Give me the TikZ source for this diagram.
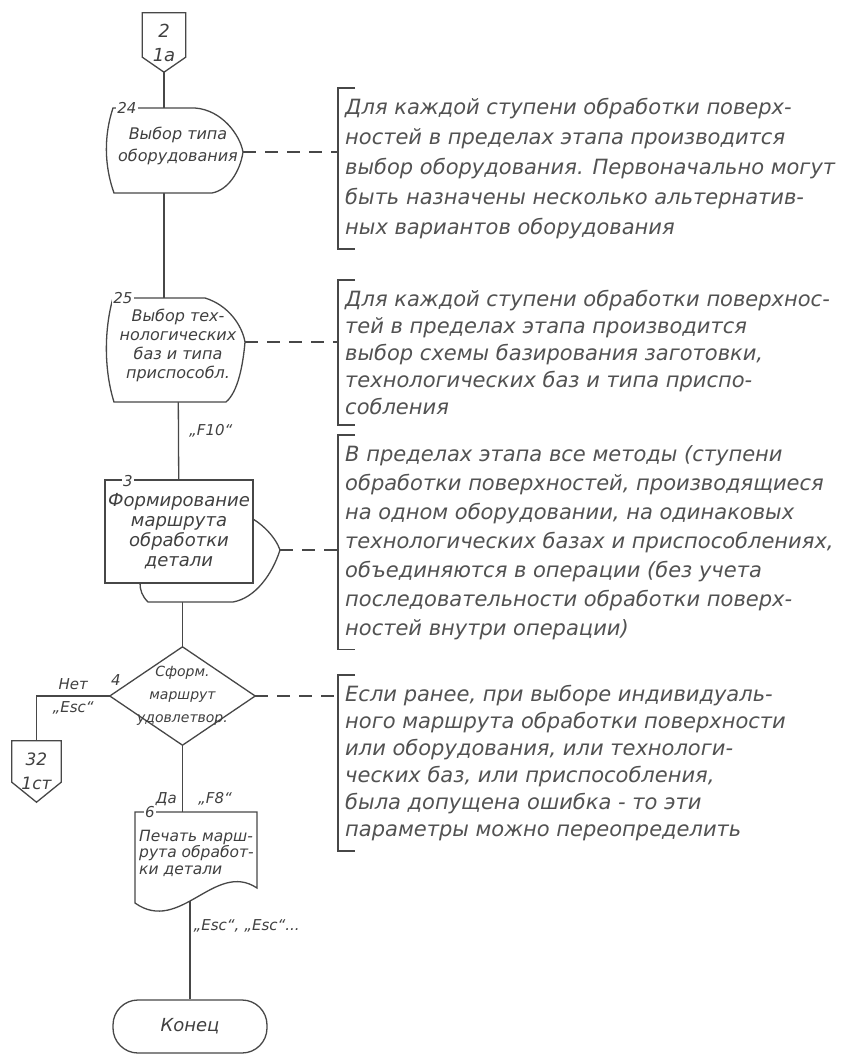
\documentclass[tikz,border=0pt]{standalone}
\usepackage{fontspec}
\setmainfont{DejaVu Sans}
\usetikzlibrary{positioning, calc}
\pgfdeclarelayer{lines}
\pgfdeclarelayer{shapes}
\pgfsetlayers{lines,shapes,main}

\begin{document}
\begin{tikzpicture}[x=1pt, y=-1pt,
		ink/.style={draw=black!72, line width=1.3pt},
		block/.style={ink, fill=white},
		link/.style={ink, dash pattern=on 13pt off 9pt},
		body/.style={inner sep=0pt, align=center, text=black!75},
		note/.style={anchor=north west, inner xsep=7pt, inner ysep=10pt, align=left, text=black!68},
		num/.style={fill=white, inner sep=1.5pt, text=black!75, font=\itshape\fontsize{15}{15}\selectfont},
		tag/.style={inner sep=1pt, text=black!75, font=\itshape\fontsize{15}{18}\selectfont}
	]
	\useasboundingbox (0,0) rectangle (854,1055);
	\begin{pgfonlayer}{lines}
		\fill[white] (0,0) rectangle (854,1055);
	\end{pgfonlayer}
	
	% flowchart blocks
	\node[body, minimum width=43pt, minimum height=59pt, font=\itshape\fontsize{18}{24}\selectfont] (p2) at (164,42.5) {2\\1а};
	\node[body, font=\itshape\fontsize{16}{22}\selectfont] (b24) at (178,146) {Выбор типа\\оборудования};
	\node[body, font=\itshape\fontsize{16}{19}\selectfont] (b25) at (178,345) {Выбор тех-\\нологических\\баз и типа\\приспособл.};
	\node[block, body, minimum width=148pt, minimum height=103pt, font=\itshape\fontsize{18}{20}\selectfont] (b3) at (179,531.5) {Формирование\\маршрута\\обработки\\детали};
	\node[body, minimum width=145pt, minimum height=98pt, font=\itshape\fontsize{14}{23}\selectfont] (d4) at (182.5,696) {Сформ.\\маршрут\\удовлетвор.};
	\node[body, minimum width=49pt, minimum height=61pt, font=\itshape\fontsize{17}{24}\selectfont] (p32) at (36.5,771.5) {32\\1ст};
	\node[body, anchor=west, align=left, font=\itshape\fontsize{15.5}{16.5}\selectfont] (b6) at (139,853) {Печать марш-\\рута обработ-\\ки детали};
	\node[block, body, rounded corners=25pt, minimum width=154pt, minimum height=53pt, font=\itshape\fontsize{18}{18}\selectfont] (stop) at (190,1026.5) {Конец};
	
	% tips of the display blocks
	\coordinate (a24) at (243,152);
	\coordinate (a25) at (245,342);
	\coordinate (a3) at (280,550);
	
	% outlines
	\begin{pgfonlayer}{shapes}
		\draw[block] (p2.north west) -- (p2.north east) -- ($(p2.south east)+(0,-15)$) -- (p2.south) -- ($(p2.south west)+(0,-15)$) -- cycle;
		\draw[block] (113,108) -- (195,108) .. controls (222,110) and (240,135) .. (a24) .. controls (240,172) and (228,190) .. (212,193) -- (114,193) .. controls (104,165) and (104,135) .. (113,108) -- cycle;
		\draw[block] (113,298) -- (205,298) .. controls (228,305) and (242,325) .. (a25) .. controls (243,365) and (238,392) .. (226,402) -- (114,402) .. controls (104,370) and (104,330) .. (113,298) -- cycle;
		\draw[block] (150,515) -- (245,515) .. controls (262,522) and (276,538) .. (a3) .. controls (272,575) and (255,598) .. (233,602) -- (148,602) .. controls (142,596) and (140,590) .. (140,583) -- cycle;
		\draw[block] (d4.north) -- (d4.east) -- (d4.south) -- (d4.west) -- cycle;
		\draw[block] (p32.north west) -- (p32.north east) -- ($(p32.south east)+(0,-20)$) -- (p32.south) -- ($(p32.south west)+(0,-20)$) -- cycle;
		\draw[block] (135,812) -- (257,812) -- (257,888) .. controls (215,860) and (180,935) .. (135,903) -- cycle;
	\end{pgfonlayer}
	
	% block numbers
	\node[num] at (127,108) {24};
	\node[num] at (123,298) {25};
	\node[num] at (128,481) {3};
	\node[tag] at (116,680) {4};
	\node[num] at (150,812) {6};
	
	% comments
	\node[note, font=\itshape\fontsize{21}{30}\selectfont] (n1) at (338,88) {Для каждой ступени обработки поверх-\\ностей в пределах этапа производится\\выбор оборудования. Первоначально могут\\быть назначены несколько альтернатив-\\ных вариантов оборудования};
	\node[note, font=\itshape\fontsize{21}{27}\selectfont] (n2) at (338,280) {Для каждой ступени обработки поверхнос-\\тей в пределах этапа производится\\выбор схемы базирования заготовки,\\технологических баз и типа приспо-\\собления};
	\node[note, font=\itshape\fontsize{21}{29}\selectfont] (n3) at (338,435) {В пределах этапа все методы (ступени\\обработки поверхностей, производящиеся\\на одном оборудовании, на одинаковых\\технологических базах и приспособлениях,\\объединяются в операции (без учета\\последовательности обработки поверх-\\ностей внутри операции)};
	\node[note, font=\itshape\fontsize{21}{27}\selectfont] (n4) at (338,675) {Если ранее, при выборе индивидуаль-\\ного маршрута обработки поверхности\\или оборудования, или технологи-\\ческих баз, или приспособления,\\была допущена ошибка - то эти\\параметры можно переопределить};
	\foreach \n in {n1,n2,n3,n4}
		\draw[ink] ($(\n.north west)+(17,0)$) -- (\n.north west) -- (\n.south west) -- ($(\n.south west)+(17,0)$);
	
	% connectors
	\begin{pgfonlayer}{lines}
		\draw[ink] (p2) -- (p2 |- b25);
		\draw[ink] (b25) -- (b3) node[tag, midway, right=9pt] {„F10“};
		\draw[ink] (b3 -| d4) -- (d4);
		\draw[ink] (d4) -- (d4 |- b6) node[tag, midway, left=4pt] {Да} node[tag, midway, right=14pt] {„F8“};
		\draw[ink] (d4.west) -| (p32) node[tag, pos=0.25, above=5pt] {Нет} node[tag, pos=0.25, below=4pt] {„Esc“};
		\draw[ink] (stop |- b6) -- (stop) node[tag, midway, right=2pt] {„Esc“, „Esc“...};
		\draw[link] (a24) -- (a24 -| n1.west);
		\draw[link] (a25) -- (a25 -| n2.west);
		\draw[link] (a3) -- (a3 -| n3.west);
		\draw[link] (d4.east) -- (d4.east -| n4.west);
	\end{pgfonlayer}
\end{tikzpicture}
\end{document}
